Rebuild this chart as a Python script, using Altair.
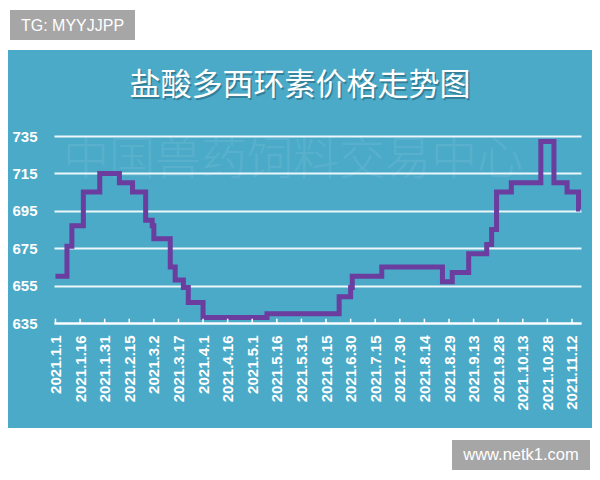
import altair as alt
import pandas as pd
import json

# ---- data ----
day_offsets = [0, 7, 10, 17, 27, 39, 47, 55, 59, 60, 70, 73, 78, 81, 90, 129,
               173, 180, 181, 199, 236, 242, 252, 263, 266, 269, 278, 296, 304,
               312, 319, 320]
prices = [660, 676, 687, 705, 715, 710, 705, 690, 687, 680, 665, 658, 654, 646,
          638, 640, 649, 654, 660, 665, 657, 662, 672, 677, 685, 705, 710, 732,
          710, 705, 696, 696]
tick_days = list(range(0, 316, 15))
tick_labels = ["2021.1.1", "2021.1.16", "2021.1.31", "2021.2.15", "2021.3.2",
               "2021.3.17", "2021.4.1", "2021.4.16", "2021.5.1", "2021.5.16",
               "2021.5.31", "2021.6.15", "2021.6.30", "2021.7.15", "2021.7.30",
               "2021.8.14", "2021.8.29", "2021.9.13", "2021.9.28", "2021.10.13",
               "2021.10.28", "2021.11.12"]
y_ticks = [635, 655, 675, 695, 715, 735]
title_text = "盐酸多西环素价格走势图"
watermark_text = "中国兽药饲料交易中心"
tag_text = "TG: MYYJJPP"
site_text = "www.netk1.com"

BLUE = "#4aaac8"
PURPLE = "#6a3d9f"
GRAY = "#a6a6a6"

df = pd.DataFrame({"day": day_offsets, "price": prices})
ticks_df = pd.DataFrame({"day": tick_days})
one = pd.DataFrame({"a": [0]})

label_expr = json.dumps(tick_labels) + "[round(datum.value/15)]"

xscale = alt.Scale(domain=[-0.9, 320.5], nice=False, zero=False)
yscale = alt.Scale(domain=[635, 735], nice=False, zero=False)

x_axis = alt.Axis(values=tick_days, labelExpr=label_expr, labelAngle=270,
                  labelAlign="right", labelBaseline="middle", labelPadding=12,
                  ticks=False, grid=False, domain=True, domainColor="white",
                  domainWidth=2, labelColor="white", labelFont="Liberation Sans",
                  labelFontWeight="bold", labelFontSize=15, title=None,
                  labelOverlap=False, labelBound=False, labelFlush=False)
y_axis = alt.Axis(values=y_ticks, ticks=False, domain=False, grid=True,
                  gridColor="white", gridWidth=2, gridOpacity=0.9,
                  labelColor="white", labelFont="Liberation Sans",
                  labelFontWeight="bold", labelFontSize=15, labelPadding=17,
                  title=None, labelOverlap=False, labelBound=False,
                  labelFlush=False)

line = alt.Chart(df).mark_line(interpolate="step-after", color=PURPLE,
                               strokeWidth=5, strokeJoin="miter").encode(
    x=alt.X("day:Q", scale=xscale, axis=x_axis),
    y=alt.Y("price:Q", scale=yscale, axis=y_axis),
)

tick_marks = alt.Chart(ticks_df).transform_calculate(
    y0="635", y1="637.3").mark_rule(color="white", strokeWidth=1.5).encode(
    x=alt.X("day:Q", scale=xscale, axis=x_axis),
    y=alt.Y("y0:Q", scale=yscale, axis=y_axis),
    y2="y1:Q",
)

# white strips outside the blue panel
top_white = alt.Chart(one).mark_rect(color="white").encode(
    x=alt.value(-46), x2=alt.value(538), y=alt.value(-128), y2=alt.value(-86))
bottom_white = alt.Chart(one).mark_rect(color="white").encode(
    x=alt.value(-46), x2=alt.value(538), y=alt.value(292), y2=alt.value(336))

tag_box = alt.Chart(one).mark_rect(color=GRAY).encode(
    x=alt.value(-44), x2=alt.value(81), y=alt.value(-126), y2=alt.value(-96))
tag = alt.Chart(pd.DataFrame({"t": [tag_text]})).mark_text(
    color="white", font="Liberation Sans", fontSize=16, align="center",
    baseline="middle").encode(x=alt.value(18.5), y=alt.value(-110.5), text="t:N")

site_box = alt.Chart(one).mark_rect(color=GRAY).encode(
    x=alt.value(398), x2=alt.value(536), y=alt.value(304), y2=alt.value(334))
site = alt.Chart(pd.DataFrame({"t": [site_text]})).mark_text(
    color="white", font="Liberation Sans", fontSize=16.5, align="center",
    baseline="middle").encode(x=alt.value(467), y=alt.value(319), text="t:N")

title_shadow = alt.Chart(pd.DataFrame({"t": [title_text]})).mark_text(
    color="#1d4f60", opacity=0.45, font="Noto Sans CJK SC", fontSize=31,
    align="center", baseline="middle").encode(
    x=alt.value(247.5), y=alt.value(-48.5), text="t:N")
title = alt.Chart(pd.DataFrame({"t": [title_text]})).mark_text(
    color="white", font="Noto Sans CJK SC", fontSize=31, align="center",
    baseline="middle").encode(x=alt.value(246), y=alt.value(-50), text="t:N")

watermark = alt.Chart(pd.DataFrame({"t": [watermark_text]})).mark_text(
    color="white", opacity=0.08, font="Noto Sans CJK SC", fontSize=46,
    fontWeight=300, align="center", baseline="middle").encode(
    x=alt.value(239), y=alt.value(24), text="t:N")

chart = alt.layer(
    watermark, line, tick_marks, top_white, bottom_white, tag_box, tag,
    site_box, site, title_shadow, title,
).properties(
    width=527, height=187,
    autosize=alt.AutoSizeParams(type="none"),
    padding={"left": 46, "top": 128, "right": 11, "bottom": 149},
    background=BLUE,
).configure_view(stroke=None)

chart.save("out.html", embed_options={"renderer": "svg", "actions": False})
